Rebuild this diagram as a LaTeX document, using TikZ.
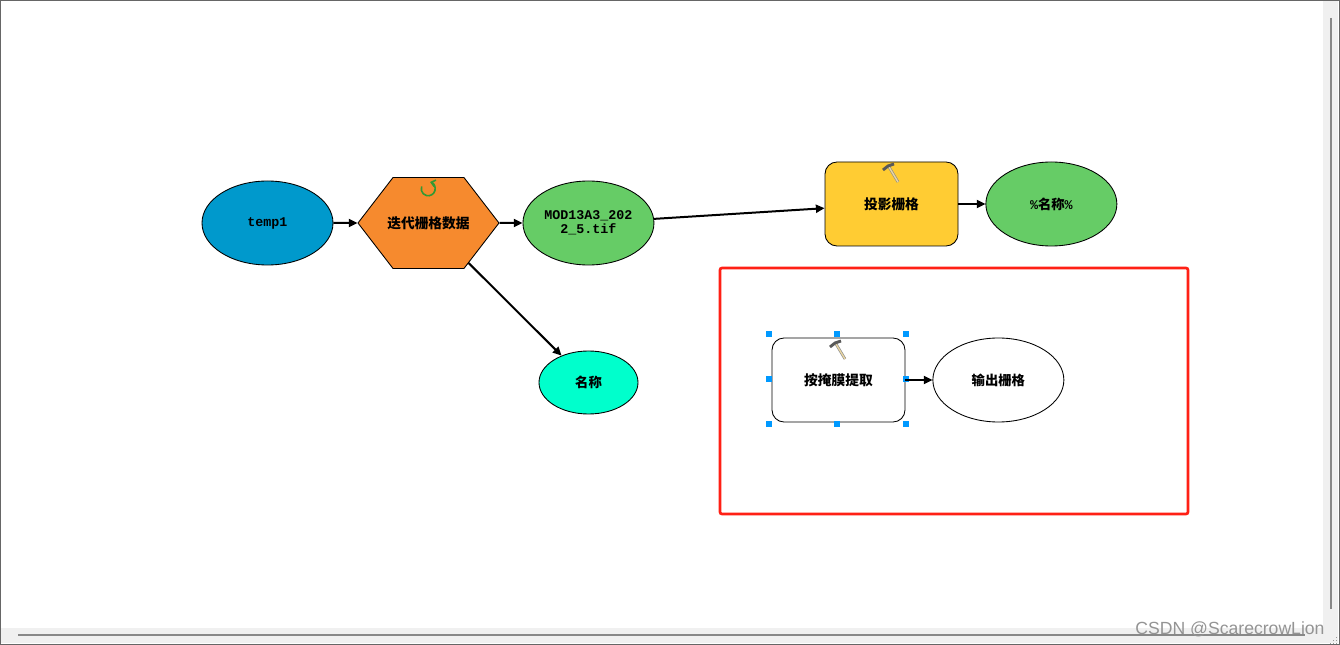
\documentclass[tikz,border=0pt]{standalone}
\usepackage{fontspec}
\setmainfont{Liberation Mono}
\newfontfamily\cjk{Noto Sans CJK SC}
\newfontfamily\marksans{Liberation Sans}
\usepackage{xcolor}
\usetikzlibrary{shapes.geometric, shapes.symbols, arrows.meta, positioning}
\definecolor{modelblue}{HTML}{0099CC}
\definecolor{modelorange}{HTML}{F68A2E}
\definecolor{modelgreen}{HTML}{66CC66}
\definecolor{modelyellow}{HTML}{FFCC33}
\definecolor{modelcyan}{HTML}{00FFCC}
\definecolor{handleblue}{HTML}{0099FF}
\definecolor{framered}{HTML}{FF2015}
\definecolor{barback}{HTML}{F0F0F0}
\definecolor{barthumb}{HTML}{888888}
\tikzset{
  datanode/.style={ellipse, draw=black, line width=0.65pt, inner sep=0pt,
    minimum width=98.25pt, minimum height=63pt, text=black,
    font=\bfseries\fontsize{10}{10.5}\selectfont},
  toolnode/.style={rectangle, rounded corners=9pt, draw=black, line width=0.65pt, inner sep=0pt,
    minimum width=99.75pt, minimum height=63pt, text=black,
    font=\cjk\bfseries\fontsize{10.3}{12}\selectfont},
  iternode/.style={signal, signal to=east and west, signal pointer angle=104.8, draw=black,
    line width=0.65pt, inner sep=0pt, minimum width=105.75pt, minimum height=68.25pt,
    fill=modelorange, font=\cjk\bfseries\fontsize{10.3}{12}\selectfont},
  arrow/.style={-{Triangle[length=6.5pt,width=6pt]}, line width=1.5pt, black},
  handle/.style={rectangle, fill=handleblue, inner sep=0pt, minimum size=3.8pt},
  barline/.style={line width=1.5pt, barthumb},
  watermark/.style={text=black!42, font=\marksans\fontsize{13.2}{14}\selectfont},
  hammer/.pic={
    \draw[line width=2pt, black!45] (-2,-6) -- (7,9);
    \draw[line width=1pt, yellow!30!brown!45] (-2,-6) -- (7,9);
    \draw[line width=2.2pt, black!65] (-8,-3) -- (-3,-7) -- (3,-9);
  }
}

\begin{document}
\begin{tikzpicture}[x=0.75pt, y=-0.75pt, every node/.style={align=center}]
  \useasboundingbox (0,0) rectangle (1340,645);
  % window
  \fill[white] (0,0) rectangle (1340,645);
  \fill[barback] (1323,1) rectangle (1338,643);
  \fill[barback] (1,628) rectangle (1338,643);
  \draw[barline] (1331,18) -- (1331,609);
  \draw[barline] (18,635) -- (1305,635);
  \foreach \gx/\gy in {1336/637, 1336/640, 1333/640, 1336/643, 1333/643, 1330/643}
    \fill[black!40] (\gx-0.5,\gy-0.5) rectangle (\gx+0.5,\gy+0.5);
  \draw[black!60, line width=1.1pt] (0.7,0.7) rectangle (1339.3,644.3);

  % upper model
  \node[datanode, fill=modelblue] (temp) at (267.5,223) {temp1};
  \node[iternode, right=18pt of temp] (iter) {\makebox[0pt]{迭代栅格数据}};
  \node[datanode, fill=modelgreen, right=17.25pt of iter] (mod) {MOD13A3\_202\\2\_5.tif};
  \node[toolnode, fill=modelyellow] (proj) at (891.5,204) {投影栅格};
  \node[datanode, fill=modelgreen, right=20.25pt of proj] (pct) {\%{\cjk 名称}\%};
  \node[datanode, fill=modelcyan, minimum width=74.25pt, minimum height=47.25pt] (name) at (588.5,382.5)
        {{\cjk 名称}};
  \draw[arrow] (temp) -- (iter);
  \draw[arrow] (iter) -- (mod);
  \draw[arrow] (mod)  -- (proj);
  \draw[arrow] (proj) -- (pct);
  \draw[arrow] (iter) -- (name);
  \draw[line width=1.2pt, green!50!black!80!white, {Straight Barb[length=3pt,width=5pt]}-] (430,182)
    arc[start angle=-75, end angle=200, radius=7];
  \pic at (891,173) {hammer};

  % red frame
  \draw[framered, line width=2pt, rounded corners=1.5pt] (720,268) rectangle (1188,514);

  % lower model
  \node[toolnode, fill=white] (clip) at (838.5,380) {按掩膜提取};
  \node[datanode, fill=white, right=20.25pt of clip] (outp) {{\cjk 输出栅格}};
  \foreach \hx/\hy [count=\i] in {769/334, 837/334, 906/334, 769/379, 906/379, 769/424, 837/424, 906/424}
    \node[handle] (h\i) at (\hx,\hy) {};
  \draw[arrow] (clip) -- (outp);
  \pic at (838,350) {hammer};

  \node[watermark] (mark) at (1230,629) {CSDN @ScarecrowLion};
\end{tikzpicture}
\end{document}
